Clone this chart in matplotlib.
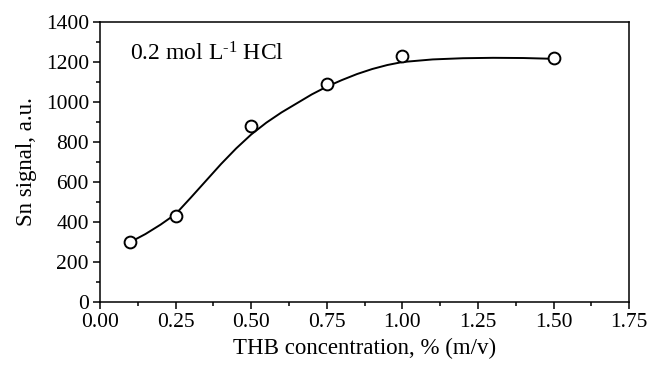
import matplotlib
matplotlib.use('Agg')
import matplotlib.pyplot as plt
from matplotlib.ticker import MultipleLocator, FormatStrFormatter

# measured points
thb_conc = [0.10, 0.25, 0.50, 0.75, 1.00, 1.50]
sn_signal = [300, 430, 880, 1090, 1230, 1218]

# fitted curve
curve_x = [0.10, 0.15, 0.20, 0.25, 0.30, 0.35, 0.40, 0.45, 0.50, 0.55, 0.60, 0.65,
           0.70, 0.75, 0.80, 0.85, 0.90, 0.95, 1.00, 1.10, 1.20, 1.30, 1.40, 1.50]
curve_y = [300, 340, 387, 440, 522, 606, 690, 768, 838, 897, 948, 993,
           1038, 1077, 1110, 1140, 1165, 1185, 1200, 1213, 1219, 1221, 1220, 1216]

plt.rcParams['font.family'] = ['Liberation Serif', 'DejaVu Serif']
plt.rcParams['mathtext.fontset'] = 'custom'
plt.rcParams['mathtext.rm'] = 'Liberation Serif'
plt.rcParams['mathtext.it'] = 'Liberation Serif:italic'

fig = plt.figure(figsize=(6.5, 3.67), dpi=100)
ax = fig.add_axes([0.154, 0.177, 0.814, 0.763])

ax.plot(curve_x, curve_y, color='black', linewidth=1.4, zorder=2)
ax.plot(thb_conc, sn_signal, linestyle='none', marker='o', markersize=8.5,
        markerfacecolor='white', markeredgecolor='black', markeredgewidth=1.4, zorder=3)

ax.set_xlim(0.0, 1.75)
ax.set_ylim(0, 1400)
ax.xaxis.set_major_locator(MultipleLocator(0.25))
ax.xaxis.set_minor_locator(MultipleLocator(0.125))
ax.xaxis.set_major_formatter(FormatStrFormatter('%.2f'))
ax.yaxis.set_major_locator(MultipleLocator(200))
ax.yaxis.set_minor_locator(MultipleLocator(100))
ax.tick_params(which='both', direction='out', top=False, right=False, labelsize=15.5, width=1.1)
ax.tick_params(which='major', length=5, pad=3)
ax.tick_params(which='minor', length=3)
for s in ax.spines.values():
    s.set_linewidth(1.1)

ax.set_xlabel('THB concentration, % (m/v)', fontsize=16.5, labelpad=4)
ax.set_ylabel('Sn signal, a.u.', fontsize=16.5, labelpad=6)
ax.text(0.1, 1240, r'0.2 mol L$^{\text{-1}}$ HCl', fontsize=17, va='center')

fig.savefig('out.png', dpi=100)
